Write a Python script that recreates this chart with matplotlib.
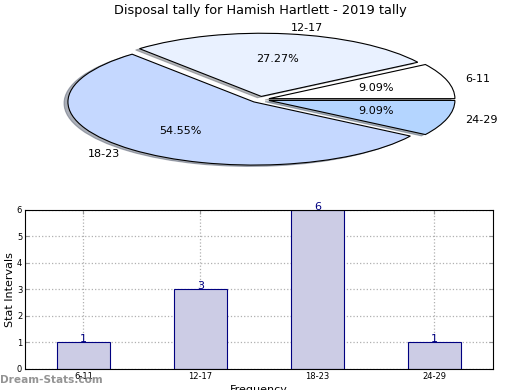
import matplotlib
matplotlib.use('Agg')
import matplotlib.pyplot as plt

#
# Data
#

title = 'Disposal tally for Hamish Hartlett - 2019 tally'
categories = ['6-11', '12-17', '18-23', '24-29']
counts = [1, 3, 6, 1]
pie_colors = ['#ffffff', '#e9f1ff', '#c5d8ff', '#b4d5ff']
explode = [0.05, 0.05, 0.05, 0.05]

fig = plt.figure(figsize=(5.2, 3.9), dpi=100)

fig.text(0.5, 0.974, title, ha='center', va='center', fontsize=9.3)

#
# Pie (squashed ellipse, like the old site charts)
#

pie_ax = fig.add_axes([0.0, 0.538, 1.0, 0.41])
wedges, texts, autotexts = pie_ax.pie(
    counts, labels=categories, colors=pie_colors, explode=explode,
    autopct='%1.2f%%', shadow={'ox': -0.015, 'oy': -0.015, 'shade': 0.55},
    startangle=0,
    wedgeprops={'edgecolor': 'black', 'linewidth': 0.8},
    textprops={'fontsize': 8})
pie_ax.set_aspect('auto')
pie_ax.set_xlim(-1.398, 1.398)
pie_ax.set_ylim(-1.277, 1.255)
pie_ax.axis('off')

#
# Bars
#

bar_ax = fig.add_axes([0.048, 0.054, 0.9, 0.408])
x = range(len(categories))
bar_ax.bar(x, counts, width=0.45, color='#ccccE5', edgecolor='#000080', linewidth=0.8, zorder=2)
for xi, c in zip(x, counts):
    bar_ax.text(xi, c, str(c), ha='center', va='baseline', fontsize=8, color='#000080', zorder=3)

bar_ax.set_xlim(-0.5, 3.5)
bar_ax.set_ylim(0, 6)
bar_ax.set_xticks(list(x))
bar_ax.set_xticklabels(categories, fontsize=6)
bar_ax.set_yticks(range(7))
bar_ax.tick_params(axis='y', labelsize=6)
bar_ax.tick_params(direction='in', length=3, color='#999999', top=True, right=True, pad=2)
bar_ax.grid(True, linestyle=':', color='#b0b0b0', linewidth=0.9, zorder=0)
bar_ax.set_axisbelow(True)
bar_ax.set_ylabel('Stat Intervals', fontsize=8, labelpad=1)
bar_ax.set_xlabel('Frequency', fontsize=8, labelpad=3)

fig.text(0.0, 0.025, 'Dream-Stats.com', ha='left', va='center', fontsize=7.6,
         fontweight='bold', color='#888888', alpha=0.9)

fig.savefig('out.png', dpi=100)
